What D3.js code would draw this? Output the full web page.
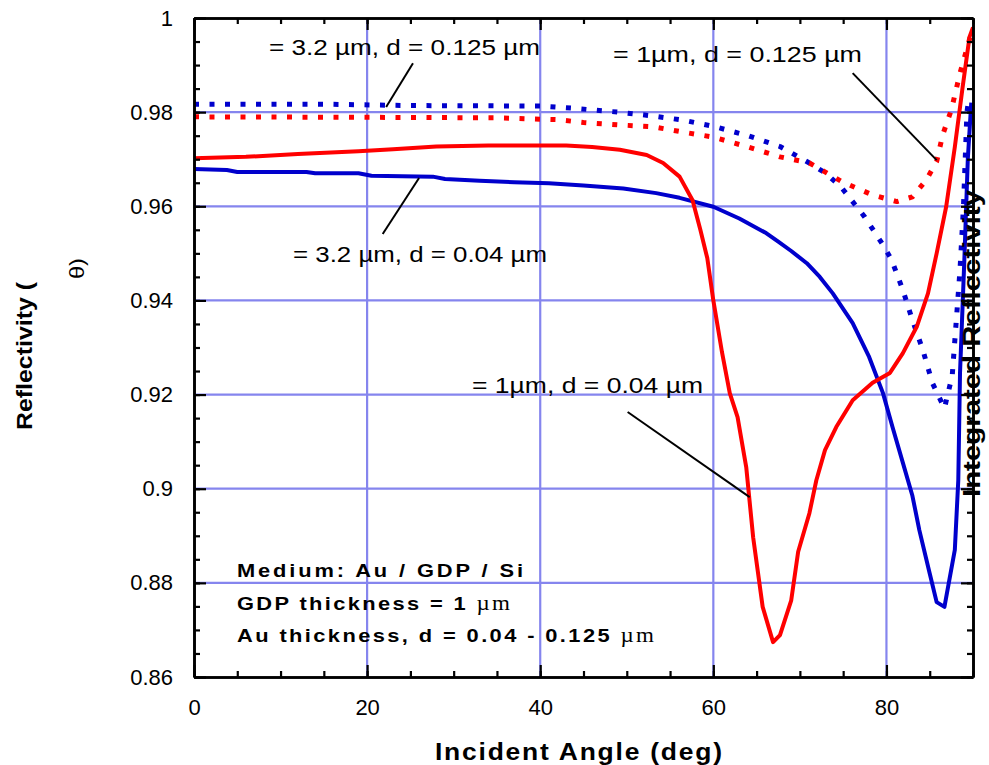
<!DOCTYPE html>
<html><head><meta charset="utf-8">
<script src="https://cdn.jsdelivr.net/npm/d3@7"></script>
<style>
body{margin:0;background:#fff}
svg{display:block}
text{font-family:"Liberation Sans",Arial,Helvetica,sans-serif;fill:#000}
</style>
</head><body>
<svg id="chart" width="989" height="765"></svg>
<script>
// ---------- DATA ----------
const xMajorTicks = [0, 20, 40, 60, 80];
const yMajorTicks = [0.86, 0.88, 0.9, 0.92, 0.94, 0.96, 0.98, 1];
const yTickLabels = ["0.86", "0.88", "0.9", "0.92", "0.94", "0.96", "0.98", "1"];
const xGrid = [20, 40, 60, 80];
const yGrid = [0.88, 0.9, 0.92, 0.94, 0.96, 0.98];

// Λ = 3.2 µm, d = 0.125 µm (blue dotted)
const angleB125 = [0, 15, 25, 40, 44, 49, 53, 56.5, 60, 64, 67.7, 71, 73, 74.8, 77.5, 79.6, 80.6, 81.9, 83, 84.2, 85.3, 86.7, 87.6, 88.0, 88.5, 88.9, 89.1, 89.3, 89.5];
const reflB125  = [0.9817, 0.9817, 0.9814, 0.9813, 0.9808, 0.9800, 0.9792, 0.9783, 0.9770, 0.9750, 0.9727, 0.9693, 0.9670, 0.9640, 0.9577, 0.9518, 0.9486, 0.9422, 0.9358, 0.9295, 0.9225, 0.9171, 0.9240, 0.9340, 0.9465, 0.9600, 0.9700, 0.9800, 0.9826];

// Λ = 1 µm, d = 0.125 µm (red dotted)
const angleR125 = [0, 20, 35, 42, 45, 49, 53, 57, 60, 63.8, 67.7, 71.1, 74.9, 78.4, 81.2, 83, 84.6, 85.8, 86.5, 87.5, 88.5, 89.3, 89.9];
const reflR125  = [0.9790, 0.9789, 0.9788, 0.9784, 0.9778, 0.9773, 0.9769, 0.9756, 0.9747, 0.9727, 0.9705, 0.9692, 0.9652, 0.9624, 0.9610, 0.9620, 0.9656, 0.9695, 0.9752, 0.9805, 0.9883, 0.9935, 0.9975];

// Λ = 1 µm, d = 0.04 µm (red solid)
const angleR04 = [0, 6, 12, 19, 23, 28, 34, 43, 46, 49.2, 52.3, 54.2, 56.1, 57.6, 58.5, 59.3, 60, 61, 61.9, 62.8, 63.8, 64.6, 65.7, 66.9, 67.7, 69, 69.8, 71.1, 71.9, 72.9, 74.2, 76.1, 78.4, 80.4, 81.9, 83.5, 84.8, 85.8, 86.9, 87.9, 88.8, 89.6, 90];
const reflR04  = [0.9702, 0.9705, 0.9711, 0.9717, 0.9721, 0.9727, 0.9729, 0.9729, 0.9726, 0.9720, 0.9709, 0.9692, 0.9663, 0.9613, 0.9550, 0.9490, 0.9400, 0.9290, 0.9203, 0.9152, 0.9046, 0.8897, 0.8749, 0.8674, 0.8689, 0.8763, 0.8866, 0.8948, 0.9018, 0.9082, 0.9131, 0.9188, 0.9225, 0.9246, 0.9288, 0.9344, 0.9415, 0.9500, 0.9599, 0.9726, 0.9853, 0.9960, 0.9980];

// Λ = 3.2 µm, d = 0.04 µm (blue solid)
const angleB04 = [0, 3.8, 5, 13, 14, 19, 20.5, 27.6, 29, 33, 37, 41, 45, 49.6, 53.4, 56.1, 60, 63, 66.1, 67.5, 69, 70.8, 72.3, 73.8, 76.1, 78, 79.6, 80.7, 81.9, 83, 83.8, 85, 85.8, 86.7, 87.9, 88.3, 88.5, 89.0, 89.4, 89.8];
const reflB04  = [0.9679, 0.9677, 0.9673, 0.9673, 0.9670, 0.9670, 0.9665, 0.9663, 0.9658, 0.9654, 0.9651, 0.9649, 0.9644, 0.9638, 0.9628, 0.9618, 0.9599, 0.9574, 0.9543, 0.9525, 0.9505, 0.9479, 0.9450, 0.9415, 0.9352, 0.9280, 0.9203, 0.9131, 0.9055, 0.8985, 0.8912, 0.8820, 0.8759, 0.8749, 0.8870, 0.9018, 0.9246, 0.9486, 0.9700, 0.9820];

const curveLabels = ["= 3.2 \u00b5m, d = 0.125 \u00b5m", "= 3.2 \u00b5m, d = 0.04 \u00b5m", "= 1\u00b5m, d = 0.125 \u00b5m", "= 1\u00b5m, d = 0.04 \u00b5m"];
const noteLines = [["Medium:  Au / GDP / Si", ""], ["GDP thickness = 1 ", "\u00b5m"], ["Au thickness, d = 0.04 - 0.125 ", "\u00b5m"]];
const xTitle = "Incident Angle (deg)";
const yTitle = "Reflectivity (";
const yTitle2 = "\u03b8)";
const y2Title = "Integrated Reflectivity";

// ---------- CHART ----------
const svg = d3.select("#chart");
const L = 194, R = 973, T = 18, B = 677;
const x = d3.scaleLinear().domain([0, 90]).range([L, R]);
const y = d3.scaleLinear().domain([0.86, 1]).range([B, T]);
const gridColor = "#8585ee";
const blue = "#0000cc", red = "#ff0000";

// grid
svg.append("g").selectAll("line").data(xGrid).join("line")
  .attr("x1", d => x(d)).attr("x2", d => x(d)).attr("y1", T).attr("y2", B)
  .attr("stroke", gridColor).attr("stroke-width", 2.2);
svg.append("g").selectAll("line").data(yGrid).join("line")
  .attr("x1", L).attr("x2", R).attr("y1", d => y(d)).attr("y2", d => y(d))
  .attr("stroke", gridColor).attr("stroke-width", 2.2);

// curves
const line = d3.line().x(d => x(d[0])).y(d => y(d[1]));
const series = [
  {a: angleB125, v: reflB125, c: blue, dash: true},
  {a: angleR125, v: reflR125, c: red, dash: true},
  {a: angleB04, v: reflB04, c: blue, dash: false},
  {a: angleR04, v: reflR04, c: red, dash: false}
];
series.forEach(s => {
  svg.append("path").datum(s.a.map((a, i) => [a, s.v[i]]))
    .attr("d", line).attr("fill", "none").attr("stroke", s.c)
    .attr("stroke-width", s.dash ? 5 : 4)
    .attr("stroke-dasharray", s.dash ? "5,10.5" : null)
    .attr("stroke-linejoin", "round");
});

// axes
function styleAxis(g) {
  g.select(".domain").attr("stroke", "#000").attr("stroke-width", 2.6);
  g.selectAll(".tick line").attr("stroke", "#000").attr("stroke-width", 2.2);
  g.selectAll("text").attr("font-size", 22).attr("font-family", '"Liberation Sans",Arial,sans-serif').attr("fill", "#000");
}
const xMinor = d3.range(0, 91, 5);
const yMinor = d3.range(0, 29).map(i => +(0.86 + i * 0.005).toFixed(3));

// bottom
svg.append("g").attr("transform", `translate(0,${B})`)
  .call(d3.axisBottom(x).tickValues(xMinor).tickSize(-6).tickFormat("").tickSizeOuter(0)).call(styleAxis);
svg.append("g").attr("transform", `translate(0,${B})`)
  .call(d3.axisBottom(x).tickValues(xMajorTicks).tickSize(-12).tickPadding(22).tickSizeOuter(0).tickFormat(d3.format("d"))).call(styleAxis);
// top
svg.append("g").attr("transform", `translate(0,${T})`)
  .call(d3.axisTop(x).tickValues(xMinor).tickSize(-6).tickFormat("").tickSizeOuter(0)).call(styleAxis);
svg.append("g").attr("transform", `translate(0,${T})`)
  .call(d3.axisTop(x).tickValues(xMajorTicks).tickSize(-12).tickFormat("").tickSizeOuter(0)).call(styleAxis);
// left
svg.append("g").attr("transform", `translate(${L},0)`)
  .call(d3.axisLeft(y).tickValues(yMinor).tickSize(-6).tickFormat("").tickSizeOuter(0)).call(styleAxis);
svg.append("g").attr("transform", `translate(${L},0)`)
  .call(d3.axisLeft(y).tickValues(yMajorTicks).tickSize(-12).tickPadding(21).tickSizeOuter(0)
    .tickFormat((d, i) => yTickLabels[i])).call(styleAxis);
// right
svg.append("g").attr("transform", `translate(${R},0)`)
  .call(d3.axisRight(y).tickValues(yMinor).tickSize(-6).tickFormat("").tickSizeOuter(0)).call(styleAxis);
svg.append("g").attr("transform", `translate(${R},0)`)
  .call(d3.axisRight(y).tickValues(yMajorTicks).tickSize(-12).tickFormat("").tickSizeOuter(0)).call(styleAxis);

// leader lines (data coordinates)
const leaders = [
  [[25.3, 0.9904], [22.2, 0.9811]],
  [[26.0, 0.9660], [21.8, 0.9541]],
  [[76.1, 0.9883], [85.8, 0.9698]],
  [[50.1, 0.9163], [64.2, 0.8982]]
];
svg.append("g").selectAll("line").data(leaders).join("line")
  .attr("x1", d => x(d[0][0])).attr("y1", d => y(d[0][1]))
  .attr("x2", d => x(d[1][0])).attr("y2", d => y(d[1][1]))
  .attr("stroke", "#000").attr("stroke-width", 2);

// curve labels
const labelPos = [[269, 55, 271], [293, 262, 254], [613, 62, 249], [472, 393, 231]];
curveLabels.forEach((t, i) => {
  svg.append("text").attr("x", labelPos[i][0]).attr("y", labelPos[i][1])
    .attr("font-size", 22).attr("textLength", labelPos[i][2]).attr("lengthAdjust", "spacingAndGlyphs")
    .text(t);
});

// notes (slightly widened glyphs plus letter spacing, as in the original)
const sx = 1.15;
const notePos = [[237, 577, 286], [237, 610, 273], [237, 642, 417]];
noteLines.forEach((p, i) => {
  const t = svg.append("text")
    .attr("transform", `translate(${notePos[i][0]},${notePos[i][1]}) scale(${sx},1)`)
    .attr("font-size", 19).attr("font-weight", "bold")
    .attr("textLength", notePos[i][2] / sx).attr("lengthAdjust", "spacing");
  t.append("tspan").text(p[0]);
  if (p[1]) t.append("tspan").attr("font-weight", "normal").attr("font-family", '"Liberation Serif","DejaVu Serif",serif').attr("font-size", 20).text(p[1]);
});

// titles
svg.append("text").attr("transform", `translate(435,760) scale(${sx},1)`).attr("font-size", 23).attr("font-weight", "bold")
  .attr("textLength", 287 / sx).attr("lengthAdjust", "spacing").text(xTitle);
svg.append("text").attr("transform", "translate(32,430) rotate(-90)").attr("font-size", 22).attr("font-weight", "bold")
  .attr("textLength", 148).attr("lengthAdjust", "spacingAndGlyphs").text(yTitle);
svg.append("text").attr("transform", "translate(84,279) rotate(-90)").attr("font-size", 20)
  .attr("textLength", 21).attr("lengthAdjust", "spacingAndGlyphs").text(yTitle2);
svg.append("text").attr("transform", "translate(980,497) rotate(-90)").attr("font-size", 23).attr("font-weight", "bold")
  .attr("textLength", 307).attr("lengthAdjust", "spacingAndGlyphs").text(y2Title);
</script>
</body></html>
